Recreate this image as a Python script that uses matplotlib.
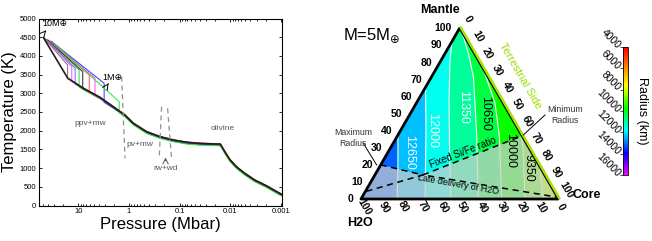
import numpy as np
import matplotlib
matplotlib.use('Agg')
import matplotlib.pyplot as plt
from matplotlib import transforms
from matplotlib.colors import LinearSegmentedColormap, Normalize
from matplotlib.cm import ScalarMappable

plt.rcParams['font.family'] = ['Liberation Sans', 'DejaVu Sans']

# ---------------- left panel data ----------------
# shared mantle adiabat (P in Mbar, T in K)
mantle_P = [16.7, 7.97, 3.73, 1.89, 1.21, 0.82, 0.45, 0.245, 0.134, 0.073, 0.040, 0.0157,
            0.0128, 0.0103, 0.0076, 0.0052, 0.0033, 0.0019, 0.00098]
mantle_T = [3396, 3134, 2888, 2607, 2420, 2198, 1973, 1840, 1751, 1690, 1660, 1640,
            1439, 1235, 1038, 861, 682, 521, 300]

# one profile per planet mass: core segment + jump at the core-mantle boundary
curve_colors = ['#707070', '#ff40ff', '#6060ff', '#30d030', '#202020',
                '#ff5050', '#ff40ff', '#3030ff', '#30e030']
P_center = [48, 46, 44, 42, 40, 38, 36, 34, 32]
T_center = [4480, 4470, 4455, 4440, 4425, 4410, 4400, 4385, 4370]
P_cmb = [16.3, 13.5, 11.6, 9.7, 8.2, 6.1, 4.7, 3.1, 1.56]
T_cmb_core = [3757, 3712, 3669, 3623, 3578, 3490, 3401, 3268, 2776]
T_cmb_mantle = [3396, 3324, 3270, 3204, 3142, 3032, 2936, 2784, 2520]
T_shift = [10, -10, -20, -40, 0, 5, -15, -25, -45]

# 10 Earth-mass reference profile (black)
ref_P = [48.9, 16.2]
ref_T = [4487, 3401]

# dashed phase boundaries
bound_P = [[1.40, 1.20], [0.2275, 0.2535], [0.173, 0.1445]]
bound_T = [[3444, 1262], [2642, 1262], [2599, 1262]]

phase_labels = ['ppv+mw', 'pv+mw', 'rw+wd', 'olivine']
phase_P = [5.86, 0.61, 0.19, 0.0139]
phase_T = [2198, 1618, 995, 2064]

# ---------------- right panel data ----------------
# radius contours on the ternary, as (mantle %, core %) points
contour_R = [12650, 12000, 11350, 10650, 10000, 9350, 8650]
contour_m = [[37.5, 19.3, 0],
             [65.5, 40.4, 17.0, 0],
             [92.4, 81.5, 58.0, 28.7, 0],
             [97.0, 85.4, 71.7, 56.1, 36.5, 0],
             [75.0, 56.1, 36.5, 0],
             [37.5, 28.7, 0],
             [18.8, 0]]
contour_c = [[0, 9.1, 18.3],
             [0, 12.8, 24.2, 32.5],
             [0, 4.4, 15.7, 30.6, 45.7],
             [3.0, 11.8, 21.2, 29.8, 40.5, 59.5],
             [25.0, 40.0, 52.0, 71.4],
             [62.5, 67.9, 83.2],
             [81.2, 92.4]]
band_R = [13100, 12325, 11675, 11000, 10325, 9675, 9000, 8300]
label_R = ['12650', '12000', '11350', '10650', '10000', '9350']
label_m = [27.5, 40.0, 54.0, 50.0, 28.5, 18.0]
label_c = [10.5, 16.0, 25.0, 38.0, 61.5, 76.0]
label_col = ['white', 'white', 'white', 'black', 'black', 'black']

wash_m = [20, 14.1, 36.9, 0, 0]
wash_c = [0, 24.4, 63.1, 100, 0]
maxr_m, maxr_c = [20, 14.1], [0, 24.4]
sife_m, sife_c = [14.1, 36.9], [24.4, 63.1]
late_m, late_c = [4.5, 14.1, 1.2], [0.5, 24.4, 98.5]

cbar_ticks = [4000, 6000, 8000, 10000, 12000, 14000, 16000]
ternary_ticks = [0, 10, 20, 30, 40, 50, 60, 70, 80, 90, 100]

# ================= figure =================
fig = plt.figure(figsize=(6.52, 2.41), dpi=100)

ax = fig.add_axes([39 / 652, 35.5 / 241, 243 / 652, 187 / 241])
for col, pc, tc, pb, tt, tb, dt in zip(curve_colors, P_center, T_center, P_cmb,
                                       T_cmb_core, T_cmb_mantle, T_shift):
    mp = [p for p in mantle_P if p < pb]
    mt = [t + dt for p, t in zip(mantle_P, mantle_T) if p < pb]
    ax.plot([pc, pb, pb] + mp, [tc, tt, tb + dt] + mt, color=col, lw=0.7)
ax.plot(ref_P + mantle_P[1:], ref_T + mantle_T[1:], color='#2a1a1a', lw=1.2)

for bp, bt in zip(bound_P, bound_T):
    ax.plot(bp, bt, color='#909090', lw=0.9, ls=(0, (4, 3)))
for s, p, t in zip(phase_labels, phase_P, phase_T):
    ax.text(p, t, s, fontsize=6, color='#555555', ha='center', va='center')
ax.annotate('', xy=(0.19, 1360), xytext=(0.19, 1120),
            arrowprops=dict(arrowstyle='->', color='#555555', lw=0.7))
ax.annotate('', xy=(40, 4740), xytext=(49, 4600),
            arrowprops=dict(arrowstyle='->', color='black', lw=0.7))
ax.text(28.8, 4853, '10M\u2295', fontsize=6.5, ha='center', va='center')
ax.annotate('', xy=(2.37, 3330), xytext=(2.75, 3196),
            arrowprops=dict(arrowstyle='->', color='black', lw=0.7))
ax.text(2.12, 3423, '1M\u2295', fontsize=6.5, ha='center', va='center')

ax.set_xscale('log')
ax.set_xlim(60, 0.00095)
ax.set_ylim(0, 5000)
ax.set_xticks([10, 1, 0.1, 0.01, 0.001])
ax.set_xticklabels(['10', '1', '0.1', '0.01', '0.001'])
ax.set_yticks(range(0, 5001, 500))
ax.tick_params(which='both', direction='in', top=True, right=True, labelsize=5.5,
               length=2.5, width=0.6, pad=2)
ax.tick_params(which='minor', length=1.5)
ax.set_xlabel('Pressure (Mbar)', fontsize=12, labelpad=1)
ax.set_ylabel('Temperature (K)', fontsize=12, labelpad=2)
for sp in ax.spines.values():
    sp.set_linewidth(0.8)

# ---------------- ternary ----------------
colors = [(0.0, '#ff0000'), (0.3, '#ffff00'), (0.48, '#00ff00'),
          (0.65, '#00ffff'), (0.83, '#0000ff'), (1.0, '#ff00ff')]
cmap = LinearSegmentedColormap.from_list('radius', colors)
norm = Normalize(4000, 16000)

tax = fig.add_axes([290 / 652, 0, 320 / 652, 1])
tax.set_xlim(-71 / 197, 249 / 197)
tax.set_ylim(-42 / 197, 199 / 197)
tax.axis('off')


def to_xy(m, c):
    m = np.asarray(m, float) / 100
    c = np.asarray(c, float) / 100
    return c + m / 2, m * np.sqrt(3) / 2


tri_x, tri_y = to_xy([0, 0, 100, 0], [0, 100, 0, 0])
tax.fill(tri_x, tri_y, color=cmap(norm(band_R[0])), lw=0, zorder=1)
for cm_, cc_, r in zip(contour_m, contour_c, band_R[1:]):
    px, py = to_xy(list(cm_) + [0, 100], list(cc_) + [100, 0])
    tax.fill(px, py, color=cmap(norm(r)), lw=0, zorder=1)
for cm_, cc_ in zip(contour_m, contour_c):
    px, py = to_xy(cm_, cc_)
    tax.plot(px, py, color='white', lw=0.8, zorder=2)

wx, wy = to_xy(wash_m, wash_c)
tax.fill(wx, wy, color='#cccccc', alpha=0.72, lw=0, zorder=3)

for s, m, c, col in zip(label_R, label_m, label_c, label_col):
    x, y = to_xy(m, c)
    tax.text(x, y, s, rotation=-90, fontsize=9, color=col, ha='center', va='center', zorder=5)

for mm, cc in [(maxr_m, maxr_c), (sife_m, sife_c), (late_m, late_c)]:
    x, y = to_xy(mm, cc)
    tax.plot(x, y, color='black', lw=1.1, ls=(0, (4, 3)), zorder=4)

# edges
ex, ey = to_xy([100, 0, 0], [0, 0, 100])
tax.plot(ex, ey, color='black', lw=2, zorder=6, solid_capstyle='round')
rx, ry = to_xy([100, 0], [0, 100])
tax.plot(rx, ry, color='black', lw=1.2, zorder=6)
tr = transforms.offset_copy(tax.transData, fig=fig, x=1.3, y=0.8, units='dots')
tax.plot(rx, ry, color='#a8e000', lw=1.8, zorder=6, transform=tr)

# tick labels
for v in ternary_ticks:
    x, y = to_xy(v, 0)
    t = transforms.offset_copy(tax.transData, fig=fig, x=-8, y=0, units='dots')
    tax.text(x, y, str(v), transform=t, fontsize=7.5, fontweight='bold', ha='right', va='center')
    x, y = to_xy(0, 100 - v)
    t = transforms.offset_copy(tax.transData, fig=fig, x=3, y=-8, units='dots')
    tax.text(x, y, str(v), transform=t, fontsize=7.5, fontweight='bold', rotation=-60,
             ha='center', va='center')
    x, y = to_xy(100 - v, v)
    t = transforms.offset_copy(tax.transData, fig=fig, x=8, y=9, units='dots')
    tax.text(x, y, str(v), transform=t, fontsize=7.5, fontweight='bold', rotation=-60,
             ha='center', va='center')

fig.text(440 / 652, 1 - 10 / 241, 'Mantle', fontsize=9, fontweight='bold', ha='center', va='center')
fig.text(360 / 652, 1 - 223 / 241, 'H2O', fontsize=9, fontweight='bold', ha='center', va='center')
fig.text(587 / 652, 1 - 195 / 241, 'Core', fontsize=9, fontweight='bold', ha='center', va='center')
fig.text(372 / 652, 1 - 36 / 241, 'M=5M$_{\\oplus}$', fontsize=12, ha='center', va='center')
fig.text(520 / 652, 1 - 76 / 241, 'Terrestrial Side', fontsize=8, color='#99dd00',
         rotation=-60, ha='center', va='center')
fig.text(353 / 652, 1 - 138 / 241, 'Maximum\nRadius', fontsize=6.3, color='#333333',
         ha='center', va='center', linespacing=1.2)
fig.text(565 / 652, 1 - 115 / 241, 'Minimum\nRadius', fontsize=6.3, color='#333333',
         ha='center', va='center', linespacing=1.2)
fig.add_artist(plt.Line2D([363.3 / 652, 376.7 / 652], [1 - 143.3 / 241, 1 - 165 / 241],
                          color='black', lw=0.7))
fig.add_artist(plt.Line2D([545 / 652, 523.3 / 652], [1 - 115 / 241, 1 - 135 / 241],
                          color='black', lw=0.7))
x, y = to_xy(27.5, 38.0)
tax.text(x, y, 'Fixed Si/Fe ratio', fontsize=7, rotation=21, ha='center', va='center', zorder=5)
x, y = to_xy(8.2, 45)
tax.text(x, y, 'Late delivery of H2O', fontsize=6.5, rotation=-10, ha='center', va='center', zorder=5)

# colorbar
cax = fig.add_axes([623.3 / 652, 66 / 241, 5 / 652, 128 / 241])
cb = fig.colorbar(ScalarMappable(norm=norm, cmap=cmap), cax=cax)
cax.invert_yaxis()
cb.set_ticks(cbar_ticks)
cax.yaxis.set_ticks_position('left')
cax.tick_params(length=2, width=0.5, labelsize=7.5, pad=1)
for lab in cax.get_yticklabels():
    lab.set_rotation(-45)
    lab.set_ha('right')
    lab.set_va('center')
    lab.set_rotation_mode('anchor')
cb.outline.set_linewidth(0.6)
fig.text(642 / 652, 1 - 111 / 241, 'Radius (km)', fontsize=9, rotation=-90,
         ha='center', va='center')

fig.savefig('out.png', dpi=100)
